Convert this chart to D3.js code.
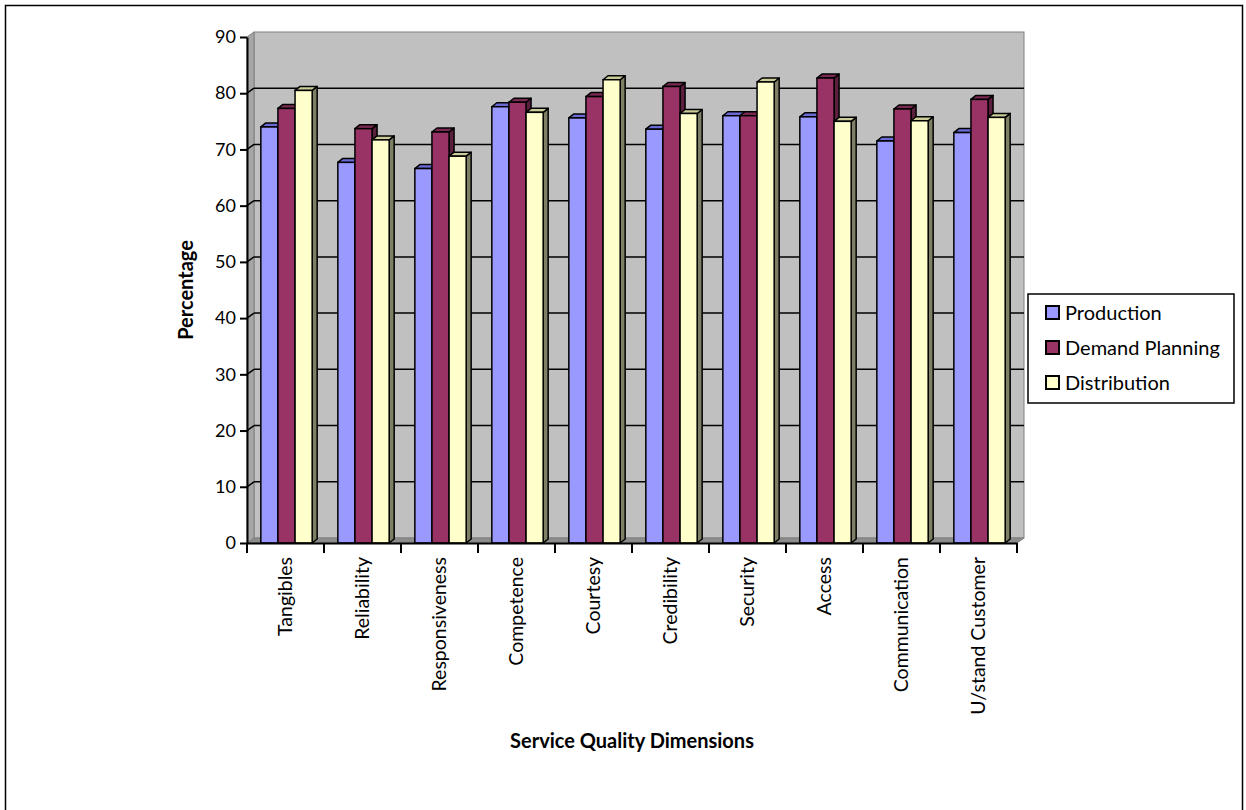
<!DOCTYPE html>
<html>
<head>
<meta charset="utf-8">
<script src="https://cdn.jsdelivr.net/npm/d3@7"></script>
<style>
  body { margin: 0; background: #fff; }
  svg { display: block; font-family: Lato, "Noto Sans", sans-serif; }
</style>
</head>
<body>
<svg id="chart" width="1246" height="810"></svg>
<script>
// values
const categories = ['Tangibles', 'Reliability', 'Responsiveness', 'Competence', 'Courtesy',
  'Credibility', 'Security', 'Access', 'Communication', 'U/stand Customer']
const seriesNames = ['Production', 'Demand Planning', 'Distribution']
const production = [74.0, 67.7, 66.6, 77.6, 75.6, 73.6, 76.0, 75.8, 71.5, 73.0]
const demandPlanning = [77.3, 73.7, 73.1, 78.4, 79.4, 81.2, 76.0, 82.7, 77.2, 78.9]
const distribution = [80.5, 71.7, 68.8, 76.6, 82.4, 76.4, 82.0, 75.0, 75.1, 75.7]
const yTicks = [0, 10, 20, 30, 40, 50, 60, 70, 80, 90]

const colors = {
  'Production': { front: '#9999ff', top: '#6b6bd6', side: '#5252a3' },
  'Demand Planning': { front: '#993366', top: '#7a2952', side: '#5c1f3d' },
  'Distribution': { front: '#ffffcc', top: '#cccc99', side: '#7f7f66' }
}

const svg = d3.select('#chart')

// outer frame
svg.append('rect')
  .attr('x', 5.5).attr('y', 5.5)
  .attr('width', 1237).attr('height', 820)
  .attr('fill', 'none').attr('stroke', '#000').attr('stroke-width', 1.5)

const pLeft = 247, pRight = 1017, pTop = 37, pBottom = 543
const wdx = 7, wdy = 5   // wall depth
const bdx = 5, bdy = 4   // bar depth

const y = d3.scaleLinear().domain([0, 90]).range([pBottom, pTop])
const x0 = d3.scaleBand().domain(categories).range([pLeft, pRight])
const x1 = d3.scaleBand().domain(seriesNames).range([0, x0.bandwidth()]).paddingOuter(0.75)

const g = svg.append('g')

// back wall
g.append('rect')
  .attr('x', pLeft + wdx).attr('y', pTop - wdy)
  .attr('width', pRight - pLeft).attr('height', pBottom - pTop)
  .attr('fill', '#c0c0c0').attr('stroke', '#808080')

// side wall
g.append('path')
  .attr('d', `M${pLeft},${pTop} L${pLeft + wdx},${pTop - wdy} L${pLeft + wdx},${pBottom - wdy} L${pLeft},${pBottom} Z`)
  .attr('fill', '#a6a6a6').attr('stroke', '#808080')

// floor
g.append('path')
  .attr('d', `M${pLeft},${pBottom} L${pLeft + wdx},${pBottom - wdy} L${pRight + wdx},${pBottom - wdy} L${pRight},${pBottom} Z`)
  .attr('fill', '#8c8c8c').attr('stroke', '#808080')

// gridlines on back wall and side wall
yTicks.filter(t => t > 0 && t < 90).forEach(t => {
  g.append('line')
    .attr('x1', pLeft + wdx).attr('x2', pRight + wdx)
    .attr('y1', y(t) - wdy).attr('y2', y(t) - wdy)
    .attr('stroke', '#000').attr('stroke-width', 1.5)
  g.append('line')
    .attr('x1', pLeft).attr('x2', pLeft + wdx)
    .attr('y1', y(t)).attr('y2', y(t) - wdy)
    .attr('stroke', '#000').attr('stroke-width', 1.5)
})

// bars
const rows = []
categories.forEach((c, i) => {
  rows.push({ cat: c, s: 'Production', v: production[i] })
  rows.push({ cat: c, s: 'Demand Planning', v: demandPlanning[i] })
  rows.push({ cat: c, s: 'Distribution', v: distribution[i] })
})

const bars = g.append('g').selectAll('g')
  .data(rows)
  .join('g')

bars.each(function (d) {
  const b = d3.select(this)
  const bx = x0(d.cat) + x1(d.s) + 1
  const bw = x1.bandwidth()
  const by = y(d.v)
  const c = colors[d.s]
  // side
  b.append('path')
    .attr('d', `M${bx + bw},${by} L${bx + bw + bdx},${by - bdy} L${bx + bw + bdx},${pBottom - bdy} L${bx + bw},${pBottom} Z`)
    .attr('fill', c.side).attr('stroke', '#000').attr('stroke-width', 1.5).attr('stroke-linejoin', 'round')
  // top
  b.append('path')
    .attr('d', `M${bx},${by} L${bx + bdx},${by - bdy} L${bx + bw + bdx},${by - bdy} L${bx + bw},${by} Z`)
    .attr('fill', c.top).attr('stroke', '#000').attr('stroke-width', 1.5).attr('stroke-linejoin', 'round')
  // front
  b.append('rect')
    .attr('x', bx).attr('y', by)
    .attr('width', bw).attr('height', pBottom - by)
    .attr('fill', c.front).attr('stroke', '#000').attr('stroke-width', 1.5)
})

// y axis
const yAxis = d3.axisLeft(y).tickValues(yTicks).tickSize(7).tickSizeOuter(0)
const yg = svg.append('g').attr('transform', `translate(${pLeft},0)`).call(yAxis)
yg.select('.domain').attr('stroke-width', 2)
yg.selectAll('.tick line').attr('stroke-width', 2)
yg.selectAll('.tick text').attr('font-size', 18).attr('font-family', 'Lato').attr('fill', '#000').attr('x', -11)

// x axis
const xAxis = d3.axisBottom(x0).tickSize(0).tickSizeOuter(0)
const xg = svg.append('g').attr('transform', `translate(0,${pBottom})`).call(xAxis)
xg.select('.domain').attr('stroke-width', 2)
xg.selectAll('.tick text')
  .attr('font-size', 19.5).attr('font-family', 'Lato').attr('fill', '#000')
  .attr('transform', 'rotate(-90)')
  .attr('text-anchor', 'end')
  .attr('x', -14).attr('y', 0).attr('dy', '0.35em')
// ticks at category boundaries
const bounds = categories.map(c => x0(c)).concat([pRight])
xg.selectAll('.bound')
  .data(bounds)
  .join('line')
  .attr('class', 'bound')
  .attr('x1', d => d).attr('x2', d => d)
  .attr('y1', 0).attr('y2', 10)
  .attr('stroke', '#000').attr('stroke-width', 2)

// axis titles
svg.append('text')
  .attr('transform', `translate(193,${(pTop + pBottom) / 2}) rotate(-90)`)
  .attr('text-anchor', 'middle')
  .attr('font-size', 20).attr('font-weight', 'bold')
  .text('Percentage')

svg.append('text')
  .attr('x', 632).attr('y', 748)
  .attr('text-anchor', 'middle')
  .attr('font-size', 20).attr('font-weight', 'bold')
  .text('Service Quality Dimensions')

// legend
const lg = svg.append('g').attr('transform', 'translate(1028,294)')
lg.append('rect')
  .attr('width', 206).attr('height', 109)
  .attr('fill', '#fff').attr('stroke', '#000').attr('stroke-width', 1.5)
seriesNames.forEach((s, i) => {
  const row = lg.append('g').attr('transform', `translate(18,${18 + i * 35})`)
  row.append('rect')
    .attr('x', 0).attr('y', -6)
    .attr('width', 13).attr('height', 13)
    .attr('fill', colors[s].front).attr('stroke', '#000').attr('stroke-width', 2)
  row.append('text')
    .attr('x', 19).attr('y', 1).attr('dy', '0.35em')
    .attr('font-size', 20)
    .text(s)
})
</script>
</body>
</html>
